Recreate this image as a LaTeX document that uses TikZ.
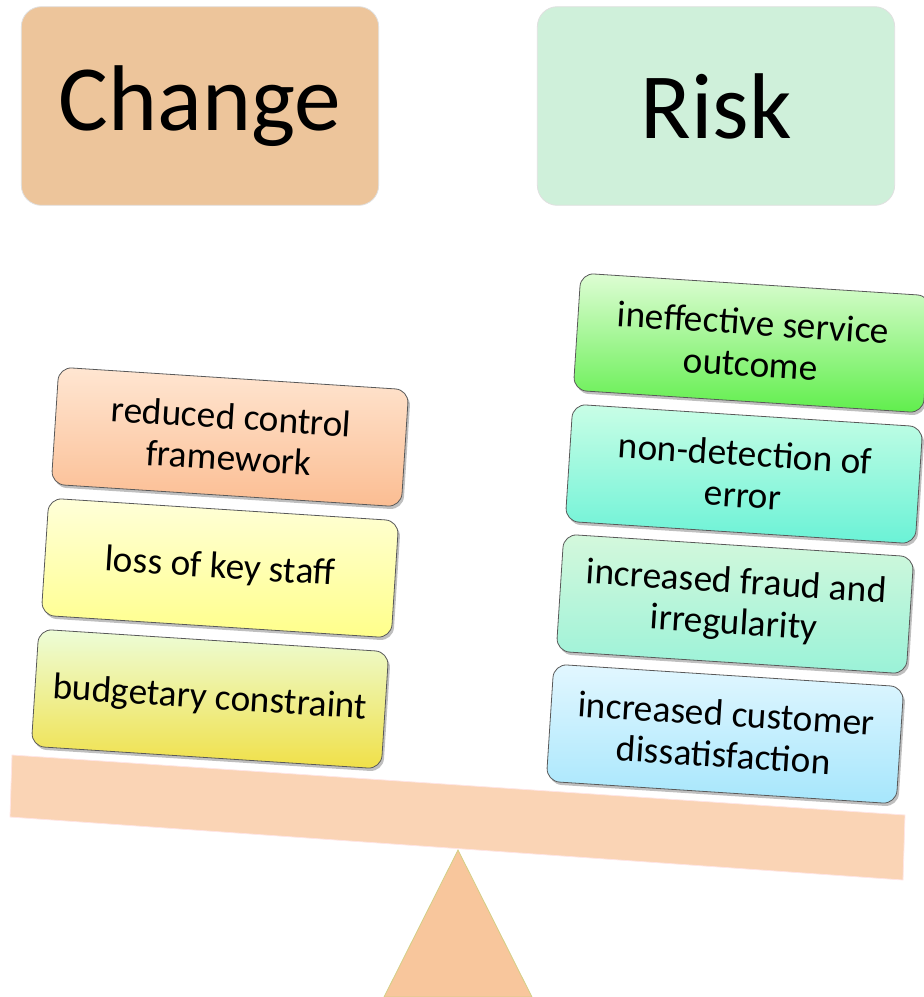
\documentclass[tikz,border=0pt]{standalone}
\usepackage{fontspec}
\setmainfont{Carlito}
\usetikzlibrary{shadows}
\definecolor{beamcol}{HTML}{FAD4B5}
\definecolor{pivotcol}{HTML}{F8C69C}
\definecolor{changecol}{HTML}{EDC59B}
\definecolor{riskcol}{HTML}{CFF0DA}
% gradient ends of the pans
\definecolor{reducedtop}{HTML}{FFE6D2}
\definecolor{reducedbot}{HTML}{FBBD92}
\definecolor{stafftop}{HTML}{FFFFD9}
\definecolor{staffbot}{HTML}{FFFF8A}
\definecolor{budgettop}{HTML}{EDFDD8}
\definecolor{budgetmid}{HTML}{E8F5A0}
\definecolor{budgetbot}{HTML}{F0E048}
\definecolor{outcometop}{HTML}{DEFDD4}
\definecolor{outcomebot}{HTML}{60EE4C}
\definecolor{errortop}{HTML}{C9FEE6}
\definecolor{errorbot}{HTML}{6AF2D6}
\definecolor{fraudtop}{HTML}{D4F8DC}
\definecolor{fraudmid}{HTML}{B8F4C8}
\definecolor{fraudbot}{HTML}{9AF2D8}
\definecolor{customertop}{HTML}{E2F7FF}
\definecolor{customerbot}{HTML}{A6E6FC}
\tikzset{
  titlebox/.style={
    rounded corners=15pt, draw=black!12, line width=0.6pt,
    minimum width=268pt, minimum height=149pt,
    font=\fontsize{70}{80}\selectfont
  },
  factor/.style={
    rounded corners=10pt, draw=black!65, line width=0.6pt,
    rotate=-3.7, align=center, inner sep=2pt,
    minimum width=263pt, minimum height=88pt,
    font=\fontsize{28}{31}\selectfont,
    drop shadow={shadow xshift=1.5pt, shadow yshift=-2.2pt, opacity=0.5}
  }
}
\begin{document}
\begin{tikzpicture}[x=0.75pt,y=-0.75pt]
  \useasboundingbox (0,0) rectangle (924,997);

  % Headings
  \node[titlebox, fill=changecol] (change) at (200,106) {Change};
  \node[titlebox, fill=riskcol] (risk) at (716,106) {Risk};

  % Beam and pivot
  \coordinate (B1) at (12,755);
  \coordinate (B2) at (905,815);
  \coordinate (B3) at (903,880);
  \coordinate (B4) at (10,817);
  \fill[beamcol] (B1) -- (B2) -- (B3) -- (B4) -- cycle;
  \draw[red!10, line width=0.6pt] (B1) -- (B2) -- (B3) -- (B4) -- cycle;

  \coordinate (P) at (458,850);
  \fill[pivotcol, draw=green!15!pivotcol, line width=0.6pt]
    (P) -- (532,997) -- (384,997) -- cycle;

  % Change side (left pan)
  \node[factor, top color=reducedtop, bottom color=reducedbot]
    (reduced) at (230,437) {reduced control\\framework};
  \node[factor, top color=stafftop, bottom color=staffbot]
    (staff) at (220,568) {loss of key staff};
  \node[factor, top color=budgettop, middle color=budgetmid, bottom color=budgetbot]
    (budget) at (210,699) {budgetary constraint};

  % Risk side (right pan)
  \node[factor, top color=outcometop, bottom color=outcomebot]
    (outcome) at (752,343) {ineffective service\\outcome};
  \node[factor, top color=errortop, bottom color=errorbot]
    (error) at (744,474) {non-detection of\\error};
  \node[factor, top color=fraudtop, middle color=fraudmid, bottom color=fraudbot]
    (fraud) at (735,604) {increased fraud and\\irregularity};
  \node[factor, top color=customertop, bottom color=customerbot]
    (customer) at (725,734) {increased customer\\dissatisfaction};
\end{tikzpicture}
\end{document}
